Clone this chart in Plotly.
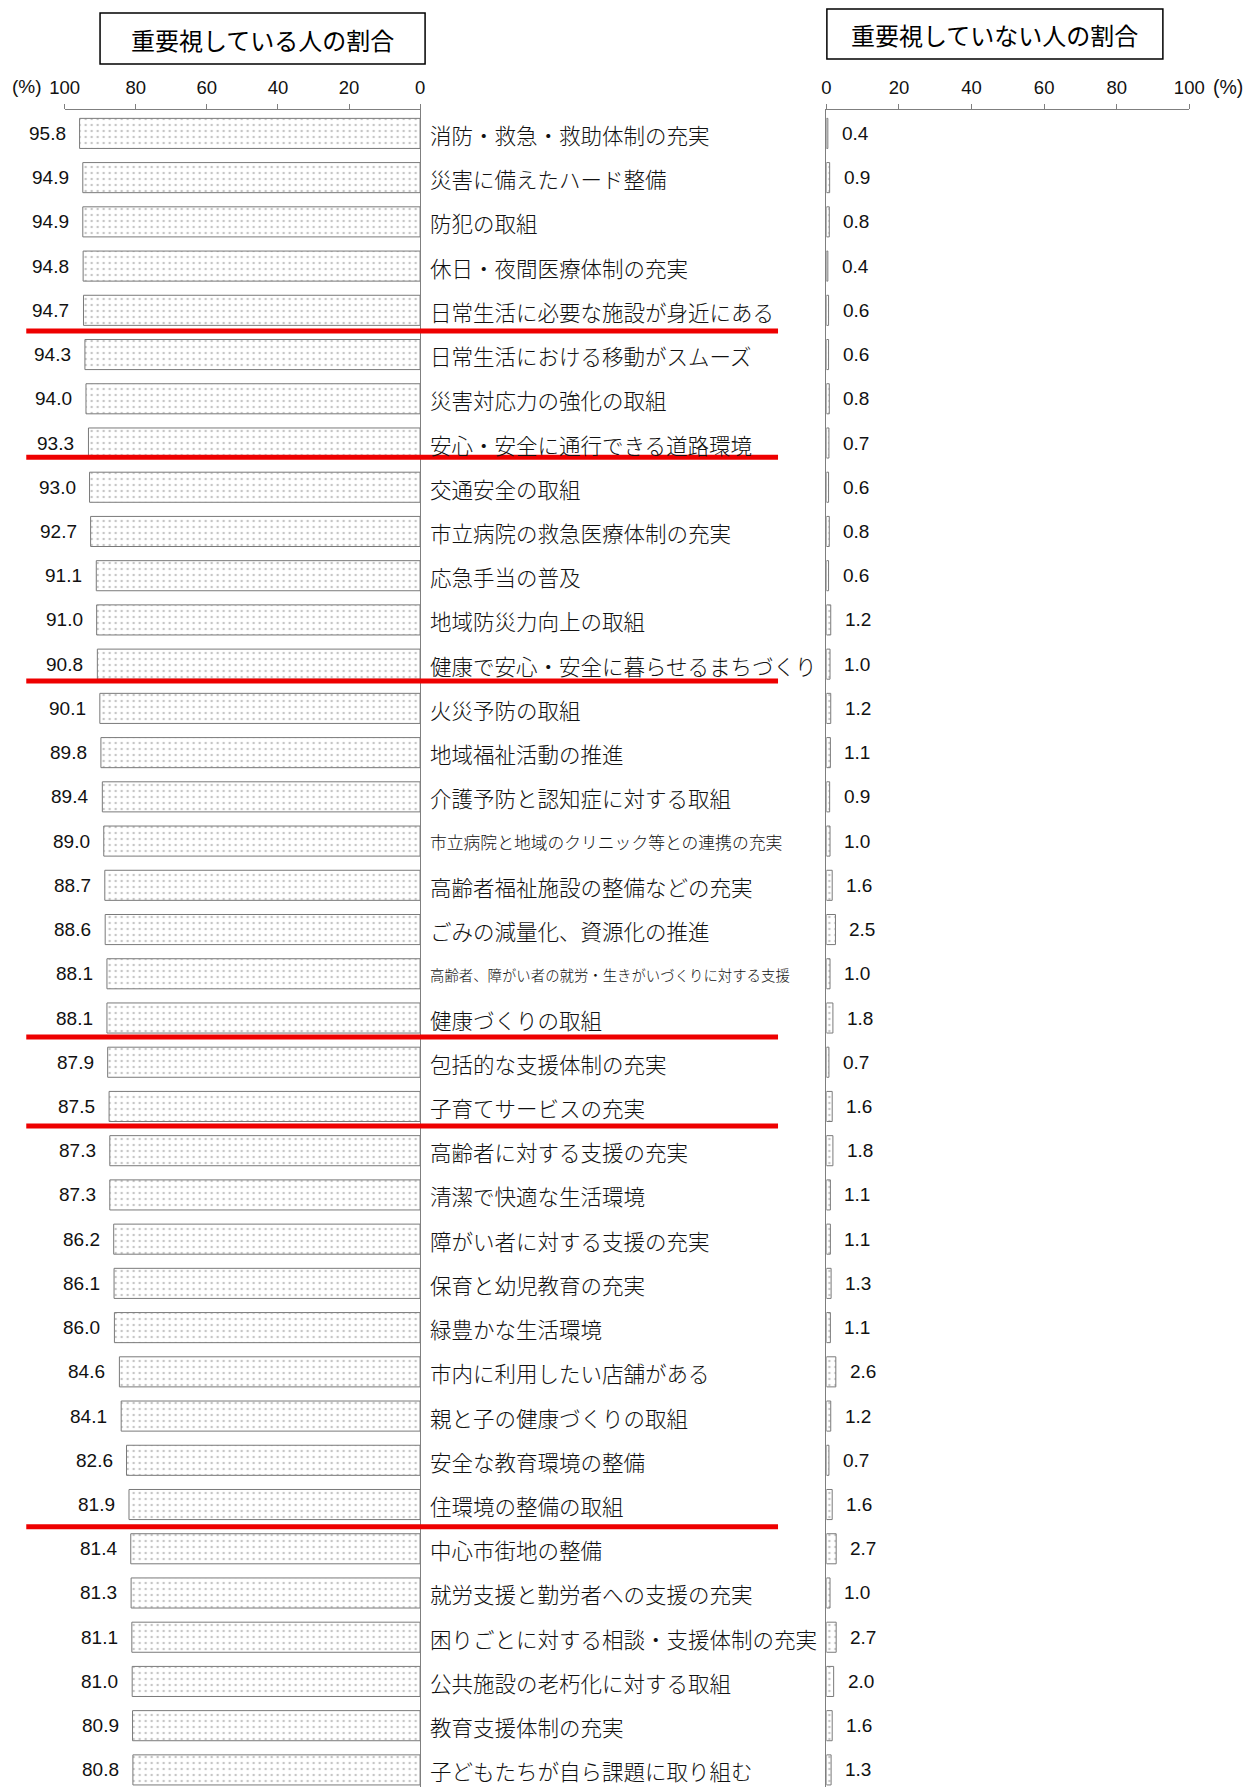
import plotly.graph_objects as go

# ---- data -------------------------------------------------------------
categories = [
    "消防・救急・救助体制の充実",
    "災害に備えたハード整備",
    "防犯の取組",
    "休日・夜間医療体制の充実",
    "日常生活に必要な施設が身近にある",
    "日常生活における移動がスムーズ",
    "災害対応力の強化の取組",
    "安心・安全に通行できる道路環境",
    "交通安全の取組",
    "市立病院の救急医療体制の充実",
    "応急手当の普及",
    "地域防災力向上の取組",
    "健康で安心・安全に暮らせるまちづくり",
    "火災予防の取組",
    "地域福祉活動の推進",
    "介護予防と認知症に対する取組",
    "市立病院と地域のクリニック等との連携の充実",
    "高齢者福祉施設の整備などの充実",
    "ごみの減量化、資源化の推進",
    "高齢者、障がい者の就労・生きがいづくりに対する支援",
    "健康づくりの取組",
    "包括的な支援体制の充実",
    "子育てサービスの充実",
    "高齢者に対する支援の充実",
    "清潔で快適な生活環境",
    "障がい者に対する支援の充実",
    "保育と幼児教育の充実",
    "緑豊かな生活環境",
    "市内に利用したい店舗がある",
    "親と子の健康づくりの取組",
    "安全な教育環境の整備",
    "住環境の整備の取組",
    "中心市街地の整備",
    "就労支援と勤労者への支援の充実",
    "困りごとに対する相談・支援体制の充実",
    "公共施設の老朽化に対する取組",
    "教育支援体制の充実",
    "子どもたちが自ら課題に取り組む",
]

important_pct = [
    95.8, 94.9, 94.9, 94.8, 94.7, 94.3, 94.0, 93.3, 93.0, 92.7,
    91.1, 91.0, 90.8, 90.1, 89.8, 89.4, 89.0, 88.7, 88.6, 88.1,
    88.1, 87.9, 87.5, 87.3, 87.3, 86.2, 86.1, 86.0, 84.6, 84.1,
    82.6, 81.9, 81.4, 81.3, 81.1, 81.0, 80.9, 80.8,
]

not_important_pct = [
    0.4, 0.9, 0.8, 0.4, 0.6, 0.6, 0.8, 0.7, 0.6, 0.8,
    0.6, 1.2, 1.0, 1.2, 1.1, 0.9, 1.0, 1.6, 2.5, 1.0,
    1.8, 0.7, 1.6, 1.8, 1.1, 1.1, 1.3, 1.1, 2.6, 1.2,
    0.7, 1.6, 2.7, 1.0, 2.7, 2.0, 1.6, 1.3,
]

axis_ticks = [0, 20, 40, 60, 80, 100]
left_title = "重要視している人の割合"
right_title = "重要視していない人の割合"

# last item of each highlighted group (a red rule is drawn under it)
group_last_items = [4, 7, 12, 20, 22, 31]

# ---- layout geometry (pixels) ----------------------------------------
W, H = 1255, 1787
GREY = "#7f7f7f"
RED = "#ee0000"
ROW_PX = 44.23
FIRST_ROW_PX = 133.4
AXIS_PX = 110

# horizontal placement helper (page pixels -> paper fraction)
SX, OX = 0.979, 13.7


def px_x(x):
    return (x - OX) / SX / W


def px_y(y):
    return 1 - y / H


rows = list(range(len(categories)))
y_top = -(FIRST_ROW_PX - AXIS_PX) / ROW_PX
y_bottom = (H - FIRST_ROW_PX) / ROW_PX
y_domain = [0, px_y(AXIS_PX)]

left_dom = [px_x(63.5), px_x(420)]
right_dom = [px_x(827.5), px_x(1191.5)]

num_font = dict(family="Liberation Sans, Arial, sans-serif", size=19, color="#111")
tick_font = dict(family="Liberation Sans, Arial, sans-serif", size=18.5, color="#111")
jp_font = "Noto Sans CJK JP"

bar_marker = dict(
    color="white",
    line=dict(color="#7a7a7a", width=1),
    pattern=dict(shape=".", fgcolor="#8c8c8c", bgcolor="white", size=6, solidity=0.14),
)

fig = go.Figure()
fig.add_trace(go.Bar(
    x=important_pct, y=rows, orientation="h", width=0.68,
    marker=bar_marker, xaxis="x", yaxis="y", hoverinfo="skip",
))
fig.add_trace(go.Bar(
    x=not_important_pct, y=rows, orientation="h", width=0.68,
    marker=bar_marker, xaxis="x2", yaxis="y2", hoverinfo="skip",
))

annotations = []
for i, (name, a, b) in enumerate(zip(categories, important_pct, not_important_pct)):
    annotations.append(dict(
        x=a, y=i, xref="x", yref="y", text=f"{a:.1f}", showarrow=False,
        xanchor="right", yanchor="middle", xshift=-12, font=num_font,
    ))
    annotations.append(dict(
        x=b, y=i, xref="x2", yref="y2", text=f"{b:.1f}", showarrow=False,
        xanchor="left", yanchor="middle", xshift=12, font=num_font,
    ))
    n = len(name)
    size = 21.5 if n <= 18 else (16.8 if n <= 21 else 14.4)
    annotations.append(dict(
        x=px_x(428), y=i, xref="paper", yref="y", text=name, showarrow=False,
        xanchor="left", yanchor="middle", yshift=-1,
        font=dict(family=jp_font, size=size, color="#111", weight=300),
    ))

# percent markers beside the scales
annotations.append(dict(x=px_x(43), y=px_y(87), xref="paper", yref="paper", text="(%)",
                        showarrow=False, xanchor="right", yanchor="middle",
                        font=dict(family="Liberation Sans, Arial", size=19, color="#111")))
annotations.append(dict(x=px_x(1213), y=px_y(87), xref="paper", yref="paper", text="(%)",
                        showarrow=False, xanchor="left", yanchor="middle",
                        font=dict(family="Liberation Sans, Arial", size=19.5, color="#111")))

# panel titles in boxes
annotations.append(dict(x=px_x(262), y=px_y(39), xref="paper", yref="paper", text=left_title,
                        showarrow=False, xanchor="center", yanchor="middle",
                        font=dict(family=jp_font, size=24, color="#000")))
annotations.append(dict(x=px_x(996.5), y=px_y(34.5), xref="paper", yref="paper", text=right_title,
                        showarrow=False, xanchor="center", yanchor="middle",
                        font=dict(family=jp_font, size=24, color="#000")))

shapes = [
    dict(type="rect", xref="paper", yref="paper",
         x0=px_x(99), x1=px_x(425), y0=px_y(13), y1=px_y(64),
         line=dict(color="#000", width=1.5), fillcolor="rgba(0,0,0,0)"),
    dict(type="rect", xref="paper", yref="paper",
         x0=px_x(828), x1=px_x(1165), y0=px_y(9), y1=px_y(59),
         line=dict(color="#000", width=1.5), fillcolor="rgba(0,0,0,0)"),
]

rule_offsets = [0.47, 0.32, 0.38, 0.43, 0.44, 0.5]
for idx, off in zip(group_last_items, rule_offsets):
    shapes.append(dict(type="line", xref="paper", yref="y",
                       x0=px_x(25), x1=px_x(779), y0=idx + off, y1=idx + off,
                       line=dict(color=RED, width=5), layer="above"))

common_x = dict(side="top", tickvals=axis_ticks, showline=True, linecolor=GREY, linewidth=1,
                ticks="outside", ticklen=5, tickcolor=GREY, tickwidth=1,
                ticklabelstandoff=3,
                showgrid=False, zeroline=False, tickfont=tick_font, fixedrange=True)
common_y = dict(domain=y_domain, range=[y_bottom, y_top], showline=True, linecolor=GREY,
                linewidth=1, showticklabels=False, ticks="", showgrid=False,
                zeroline=False, fixedrange=True)

fig.update_layout(
    width=W, height=H,
    margin=dict(l=0, r=0, t=0, b=0),
    paper_bgcolor="white", plot_bgcolor="rgba(0,0,0,0)",
    showlegend=False,
    xaxis=dict(domain=left_dom, range=[100, 0], anchor="y", **common_x),
    yaxis=dict(anchor="x", side="right", **common_y),
    xaxis2=dict(domain=right_dom, range=[0, 100], anchor="y2", **common_x),
    yaxis2=dict(anchor="x2", side="left", **common_y),
    annotations=annotations,
    shapes=shapes,
)

fig.write_html("out.html", config={"displayModeBar": False})
